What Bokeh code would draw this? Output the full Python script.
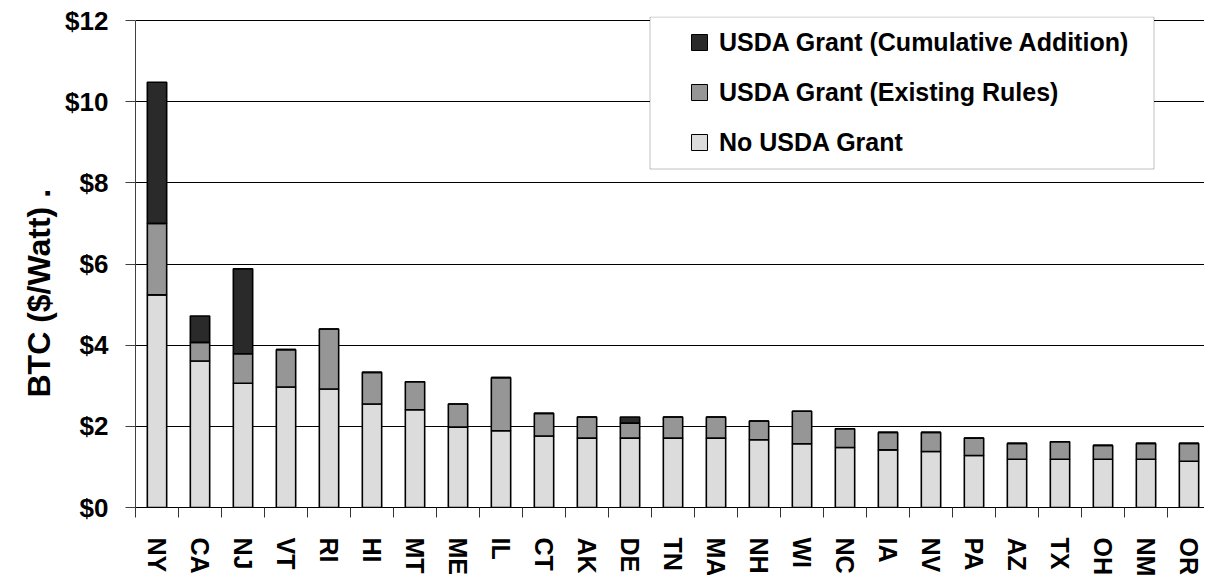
from bokeh.plotting import figure
from bokeh.models import (Range1d, FixedTicker, Legend, LegendItem, BoxAnnotation, Title,
                          NumeralTickFormatter, ColumnDataSource)
from bokeh.embed import file_html
from bokeh.resources import INLINE

states = ["NY", "CA", "NJ", "VT", "RI", "HI", "MT", "ME", "IL", "CT", "AK", "DE", "TN",
          "MA", "NH", "WI", "NC", "IA", "NV", "PA", "AZ", "TX", "OH", "NM", "OR"]
# segment heights ($/Watt)
no_grant = [5.24, 3.61, 3.06, 2.97, 2.92, 2.55, 2.41, 1.98, 1.89, 1.76, 1.71, 1.71, 1.71,
            1.71, 1.67, 1.57, 1.48, 1.42, 1.38, 1.28, 1.19, 1.19, 1.19, 1.19, 1.14]
existing_rules = [1.76, 0.46, 0.73, 0.92, 1.48, 0.78, 0.69, 0.57, 1.31, 0.56, 0.52, 0.37, 0.52,
                  0.52, 0.46, 0.80, 0.46, 0.43, 0.47, 0.43, 0.39, 0.43, 0.34, 0.39, 0.44]
cumulative_addition = [3.48, 0.65, 2.09, 0, 0, 0, 0, 0, 0, 0, 0, 0.15, 0,
                       0, 0, 0, 0, 0, 0, 0, 0, 0, 0, 0, 0]
series_labels = ["No USDA Grant", "USDA Grant (Existing Rules)", "USDA Grant (Cumulative Addition)"]
y_ticks = [0, 2, 4, 6, 8, 10, 12]
y_title = "BTC ($/Watt) ."

colors = ["#dcdcdc", "#969696", "#2a2a2a"]
FONT = "Liberation Sans"

n = len(states)
xc = [i + 0.5 for i in range(n)]
bounds = list(range(n + 1))

source = ColumnDataSource(dict(x=xc, no=no_grant, ex=existing_rules, cum=cumulative_addition))

FRAME_W = 1069
PX_PER_DOLLAR = 487 / 12.0
p = figure(frame_width=FRAME_W, frame_height=491,
           x_range=Range1d(0, FRAME_W / 43.0),
           y_range=Range1d(0, 12 + 4 / PX_PER_DOLLAR),
           output_backend="svg", toolbar_location=None,
           min_border_left=135, min_border_top=16, min_border_right=0, min_border_bottom=0)
p.outline_line_color = None
p.background_fill_color = "white"

bars = p.vbar_stack(["no", "ex", "cum"], x="x", width=0.45, source=source,
                    fill_color=colors, line_color="black", line_width=1.6)

# legend frame
box = BoxAnnotation(left=649.5, right=1153.5, top=16.5, bottom=168.5,
                    left_units="canvas", right_units="canvas",
                    top_units="canvas", bottom_units="canvas",
                    fill_color="white", fill_alpha=1,
                    line_color="#333333", line_width=1, level="annotation")
p.add_layout(box)

# legend glyph carriers (no visible points)
leg_r = []
for c in colors:
    r = p.scatter(x=[float("nan")], y=[float("nan")], marker="square",
                  fill_color=c, line_color="black", line_width=1)
    leg_r.append(r)

legend = Legend(items=[LegendItem(label=series_labels[i], renderers=[leg_r[i]]) for i in (2, 1, 0)],
                location=(544, 345), margin=0, padding=0, spacing=10,
                glyph_width=40, glyph_height=40, label_standoff=0,
                label_height=40,
                label_text_font=FONT, label_text_font_style="bold",
                label_text_font_size="25px", label_text_color="black",
                border_line_color=None, background_fill_alpha=0)
p.add_layout(legend)

# y axis
yax = p.yaxis[0]
yax.ticker = FixedTicker(ticks=y_ticks)
yax.bounds = (0, 12)
yax.formatter = NumeralTickFormatter(format="$0")
yax.major_label_text_font = FONT
yax.major_label_text_font_style = "bold"
yax.major_label_text_font_size = "26px"
yax.major_label_text_color = "black"
yax.major_tick_out = 10
yax.major_tick_in = 0
yax.minor_tick_line_color = None
yax.major_label_standoff = 17
yax.axis_line_color = "#404040"
yax.major_tick_line_color = "#404040"

# y-axis title, set on the left side
ytitle = Title(text=y_title, align="left", offset=110, vertical_align="middle",
               standoff=10, text_font=FONT, text_font_style="bold",
               text_font_size="32px", text_color="black")
p.add_layout(ytitle, "left")

# x axis
xax = p.xaxis[0]
xax.ticker = FixedTicker(ticks=xc, minor_ticks=bounds)
xax.major_label_overrides = {xc[i]: states[i] for i in range(n)}
xax.major_label_orientation = "vertical"
xax.major_tick_line_color = None
xax.major_tick_out = 0
xax.major_tick_in = 0
xax.minor_tick_out = 10
xax.minor_tick_in = 0
xax.minor_tick_line_color = "#333333"
xax.axis_line_color = "black"
xax.major_label_standoff = 20
xax.major_label_text_font = FONT
xax.major_label_text_font_style = "bold"
xax.major_label_text_font_size = "25px"
xax.major_label_text_color = "black"

p.xgrid.visible = False
p.ygrid.grid_line_color = "black"
p.ygrid.grid_line_width = 1

open("out.html", "w").write(file_html(p, INLINE))
